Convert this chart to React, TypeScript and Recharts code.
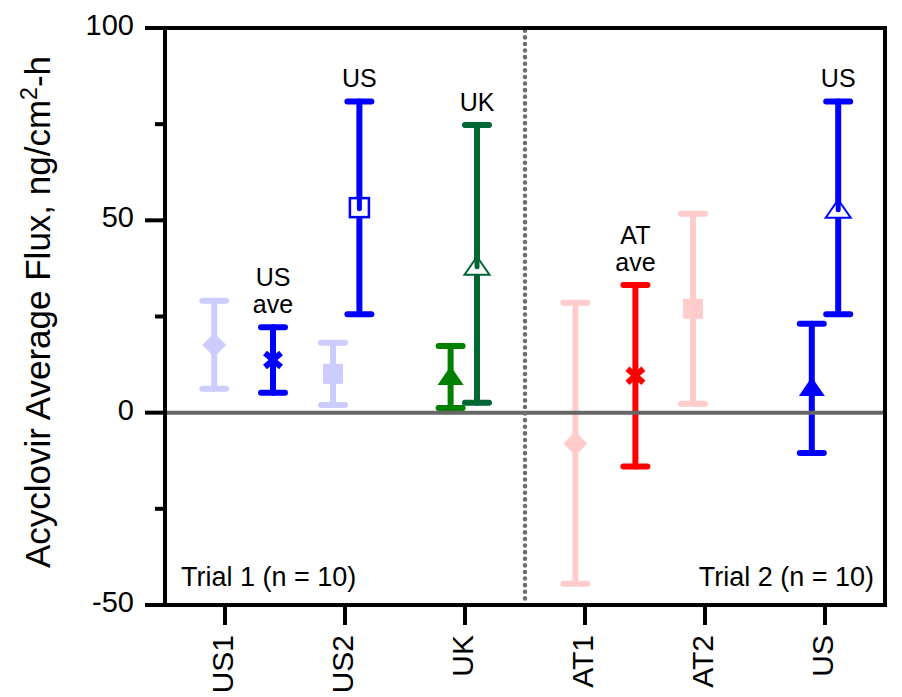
import { ComposedChart, Scatter, XAxis, YAxis, ErrorBar, ReferenceLine } from 'recharts'

const FONT = '"Liberation Sans", Arial, sans-serif'

// categories along the bottom axis (one slot each)
const categories = ['US1', 'US2', 'UK', 'AT1', 'AT2', 'US']
const categoryTicks = categories.map((_, i) => i + 0.5)
const yTicks = [-50, -25, 0, 25, 50, 75, 100]
const majorYTicks = [-50, 0, 50, 100]

// one entry per plotted point (x in category slots)
const pointNames = ['US1', 'US ave', 'US2', 'US', 'UK (filled)', 'UK', 'AT1', 'AT ave', 'AT2', 'US (filled)', 'US']
const pointX = [0.41, 0.9, 1.4, 1.62, 2.38, 2.6, 3.42, 3.92, 4.4, 5.39, 5.61]
const means = [17.6, 13.7, 10.1, 53.3, 9.5, 38.2, -8.0, 9.6, 27.0, 6.7, 53.0]
const lows = [6.2, 5.2, 2.0, 25.6, 1.2, 2.6, -44.5, -14.0, 2.3, -10.5, 25.6]
const highs = [29.1, 22.2, 18.2, 80.9, 17.3, 74.8, 28.6, 33.2, 51.7, 23.1, 80.9]
const notes = ['', 'US\nave', '', 'US', '', 'UK', '', 'AT\nave', '', '', 'US']

// marker look for each point, same order
const pointStyles = [
  { kind: 'diamond', color: '#ccccff' },
  { kind: 'cross', color: '#0000ff' },
  { kind: 'square', color: '#ccccff' },
  { kind: 'openSquare', color: '#0000ff' },
  { kind: 'triangle', color: '#008000' },
  { kind: 'openTriangle', color: '#006633' },
  { kind: 'diamond', color: '#ffcccc' },
  { kind: 'cross', color: '#ff0000' },
  { kind: 'square', color: '#ffcccc' },
  { kind: 'triangle', color: '#0000ff' },
  { kind: 'openTriangle', color: '#0000ff' },
]

const Marker = ({ cx, cy, kind, color }: any) => {
  if (cx == null || cy == null) return null
  switch (kind) {
    case 'diamond':
      return <path d={`M${cx},${cy - 12} L${cx + 12},${cy} L${cx},${cy + 12} L${cx - 12},${cy} Z`} fill={color} />
    case 'square':
      return <rect x={cx - 10} y={cy - 10} width={20} height={20} fill={color} />
    case 'openSquare':
      return (
        <g>
          <rect x={cx - 9.5} y={cy - 9.5} width={19} height={19} fill="#fff" stroke={color} strokeWidth={2.5} />
          <line x1={cx} x2={cx} y1={cy - 9} y2={cy + 1} stroke={color} strokeWidth={5} strokeLinecap="round" />
        </g>
      )
    case 'cross':
      return (
        <path
          d={`M${cx - 8},${cy - 7} L${cx + 8},${cy + 7} M${cx + 8},${cy - 7} L${cx - 8},${cy + 7}`}
          stroke={color}
          strokeWidth={6}
        />
      )
    case 'triangle':
      return <path d={`M${cx},${cy - 10} L${cx + 13},${cy + 9} L${cx - 13},${cy + 9} Z`} fill={color} />
    case 'openTriangle':
      return (
        <g>
          <path
            d={`M${cx},${cy - 9} L${cx + 12.5},${cy + 9} L${cx - 12.5},${cy + 9} Z`}
            fill="#fff"
            stroke={color}
            strokeWidth={2}
          />
          <line x1={cx} x2={cx} y1={cy - 9} y2={cy + 1} stroke={color} strokeWidth={5} strokeLinecap="round" />
        </g>
      )
    default:
      return null
  }
}

const NoteShape = ({ cx, cy, payload }: any) => {
  const lines: string[] = payload.note.split('\n')
  return (
    <text textAnchor="middle" fontSize={25} fontFamily={FONT} fill="#000">
      {lines.map((l, i) => (
        <tspan key={i} x={cx} y={cy - 14 - (lines.length - 1 - i) * 27}>
          {l}
        </tspan>
      ))}
    </text>
  )
}

const YTick = ({ x, y, payload }: any) => {
  const major = majorYTicks.includes(payload.value)
  return (
    <g>
      <line x1={x - (major ? 20 : 10)} x2={x} y1={y} y2={y} stroke="#000" strokeWidth={4} />
      {major && (
        <text x={x - 31} y={y - 3} dy="0.35em" textAnchor="end" fontSize={29} fontFamily={FONT} fill="#000">
          {payload.value}
        </text>
      )}
    </g>
  )
}

const XTick = ({ x, y, payload }: any) => (
  <text
    x={0}
    y={0}
    transform={`translate(${x + 8}, ${y + 10}) rotate(-90)`}
    textAnchor="end"
    fontSize={30}
    fontFamily={FONT}
    fill="#000">
    {categories[Math.floor(payload.value)]}
  </text>
)

const YTitle = () => (
  <text
    transform="translate(50, 312) rotate(-90)"
    textAnchor="middle"
    fontSize={35}
    fontFamily={FONT}
    fill="#000">
    Acyclovir Average Flux, ng/cm
    <tspan dy={-13} fontSize={23}>2</tspan>
    <tspan dy={13}>-h</tspan>
  </text>
)

const points = pointNames.map((name, i) => ({
  name,
  x: pointX[i],
  y: means[i],
  err: [means[i] - lows[i], highs[i] - means[i]],
}))

const noteData = pointNames
  .map((name, i) => ({ name, x: pointX[i], y: highs[i], note: notes[i] }))
  .filter((d) => d.note)

const axisLine = { stroke: '#000', strokeWidth: 4, strokeLinecap: 'square' as const }

const App = () => (
  <div style={{ position: 'absolute', left: 0, top: 0, background: '#fff' }}>
    <ComposedChart width={902} height={697} margin={{ top: 0, right: 0, bottom: 0, left: 0 }}>
      <XAxis
        xAxisId="b"
        dataKey="x"
        type="number"
        domain={[0, 6]}
        ticks={categoryTicks}
        height={92}
        tickSize={20}
        tickMargin={0}
        axisLine={axisLine}
        tickLine={{ stroke: '#000', strokeWidth: 4 }}
        tick={<XTick />}
        interval={0}
      />
      <XAxis
        xAxisId="t"
        orientation="top"
        type="number"
        domain={[0, 6]}
        ticks={categoryTicks}
        height={28}
        tickSize={20}
        axisLine={axisLine}
        tickLine={{ stroke: '#000', strokeWidth: 4 }}
        tickFormatter={() => ''}
        interval={0}
      />
      <YAxis
        yAxisId="l"
        type="number"
        domain={[-50, 100]}
        ticks={yTicks}
        width={165}
        tickSize={0}
        tickMargin={0}
        axisLine={axisLine}
        tickLine={false}
        tick={<YTick />}
        interval={0}
        label={<YTitle />}
      />
      <YAxis
        yAxisId="r"
        orientation="right"
        type="number"
        domain={[-50, 100]}
        ticks={yTicks}
        width={17}
        tickSize={7}
        axisLine={axisLine}
        tickLine={{ stroke: '#000', strokeWidth: 3 }}
        tickFormatter={() => ''}
        interval={0}
      />
      {points.map((p, i) => (
        <Scatter
          key={i}
          name={p.name}
          data={[p]}
          dataKey="y"
          xAxisId="b"
          yAxisId="l"
          isAnimationActive={false}
          shape={(props: any) => <Marker {...props} kind={pointStyles[i].kind} color={pointStyles[i].color} />}>
          <ErrorBar
            dataKey="err"
            direction="y"
            width={12}
            stroke={pointStyles[i].color}
            strokeWidth={6}
            strokeLinecap="round"
            isAnimationActive={false}
          />
        </Scatter>
      ))}
      <Scatter
        name="notes"
        data={noteData}
        dataKey="y"
        xAxisId="b"
        yAxisId="l"
        isAnimationActive={false}
        shape={(props: any) => <NoteShape {...props} />}
      />
      <ReferenceLine xAxisId="b" yAxisId="l" y={0} stroke="#666" strokeWidth={4} />
      <ReferenceLine
        xAxisId="b"
        yAxisId="l"
        x={3}
        stroke="#6e6e6e"
        strokeWidth={4.5}
        strokeDasharray="0.1 6.5"
        strokeLinecap="round"
      />
      <text x={181} y={586} fontSize={27} fontFamily={FONT} fill="#000">
        Trial 1 (n = 10)
      </text>
      <text x={874} y={586} textAnchor="end" fontSize={27} fontFamily={FONT} fill="#000">
        Trial 2 (n = 10)
      </text>
    </ComposedChart>
  </div>
)

export default App
